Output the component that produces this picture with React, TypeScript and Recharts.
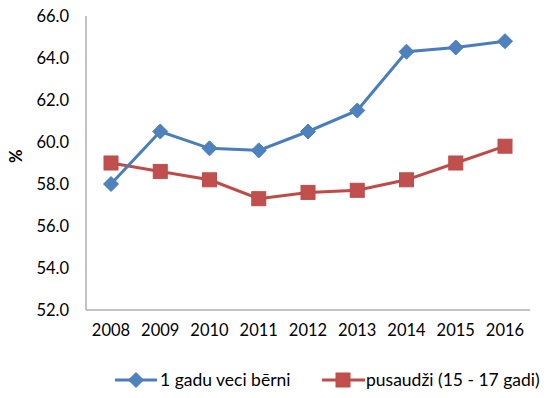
import React from "react";
import { LineChart, Line, XAxis, YAxis, Label } from "recharts";

const years = ["2008", "2009", "2010", "2011", "2012", "2013", "2014", "2015", "2016"];
const children1 = [58.0, 60.5, 59.7, 59.6, 60.5, 61.5, 64.3, 64.5, 64.8];
const teens = [59.0, 58.6, 58.2, 57.3, 57.6, 57.7, 58.2, 59.0, 59.8];
const yTicks = [52, 54, 56, 58, 60, 62, 64, 66];
const name1 = "1 gadu veci bērni";
const name2 = "pusaudži (15 - 17 gadi)";

const data = years.map((y, i) => ({ year: y, a: children1[i], b: teens[i] }));

const BLUE = "#4A7EBB";
const BLUE_FILL = "#4F81BD";
const RED = "#BE4B48";
const RED_FILL = "#C0504D";
const FONT = "Lato, 'Open Sans', sans-serif";

const Diamond = (props: any) => {
  const { cx, cy } = props;
  if (cx == null || cy == null) return null;
  const r = 7.5;
  return (
    <path
      d={`M${cx},${cy - r}L${cx + r},${cy}L${cx},${cy + r}L${cx - r},${cy}Z`}
      fill={BLUE_FILL}
      stroke={BLUE}
      strokeWidth={1}
    />
  );
};

const Square = (props: any) => {
  const { cx, cy } = props;
  if (cx == null || cy == null) return null;
  const r = 7;
  return <rect x={cx - r} y={cy - r} width={2 * r} height={2 * r} fill={RED_FILL} stroke={RED} strokeWidth={1} />;
};

const LegendContent = () => (
  <svg width={549} height={30} style={{ position: "absolute", left: 0, top: 365 }}>
    <line x1={115} y1={15} x2={157} y2={15} stroke={BLUE} strokeWidth={3} />
    <Diamond cx={136} cy={15} />
    <text x={160} y={15} dy="0.35em" fontSize={17.5} fontFamily={FONT} fill="#000">{name1}</text>
    <line x1={322} y1={15} x2={365} y2={15} stroke={RED} strokeWidth={3} />
    <Square cx={343} cy={15} />
    <text x={366} y={15} dy="0.35em" fontSize={17.5} fontFamily={FONT} fill="#000">{name2}</text>
  </svg>
);

export default function App() {
  return (
    <div style={{ position: "absolute", left: 0, top: 0, width: 549, height: 398, background: "#fff" }}>
      <LineChart width={549} height={398} data={data} margin={{ top: 16, right: 19, left: 0, bottom: 58 }}>
        <XAxis
          dataKey="year"
          height={30}
          padding={{ left: 25, right: 25 }}
          axisLine={{ stroke: "#868686" }}
          tickLine={false}
          tickSize={0}
          tickMargin={14}
          tick={{ fontSize: 16.5, fontFamily: FONT, fill: "#000" }}
          interval={0}
        />
        <YAxis
          width={86}
          domain={[52, 66]}
          ticks={yTicks}
          tickFormatter={(v: number) => v.toFixed(1)}
          axisLine={{ stroke: "#868686" }}
          tickLine={false}
          tickSize={0}
          tickMargin={17}
          tick={{ fontSize: 16.5, fontFamily: FONT, fill: "#000" }}
        >
          <Label
            value="%"
            angle={-90}
            position="insideLeft"
            offset={16}
            style={{ fontSize: 16.5, fontFamily: FONT, fontWeight: "bold", fill: "#000" }}
          />
        </YAxis>
        <Line
          type="linear"
          dataKey="b"
          name={name2}
          stroke={RED}
          strokeWidth={3}
          dot={<Square />}
          activeDot={false}
          isAnimationActive={false}
        />
        <Line
          type="linear"
          dataKey="a"
          name={name1}
          stroke={BLUE}
          strokeWidth={3}
          dot={<Diamond />}
          activeDot={false}
          isAnimationActive={false}
        />
      </LineChart>
      <LegendContent />
    </div>
  );
}
